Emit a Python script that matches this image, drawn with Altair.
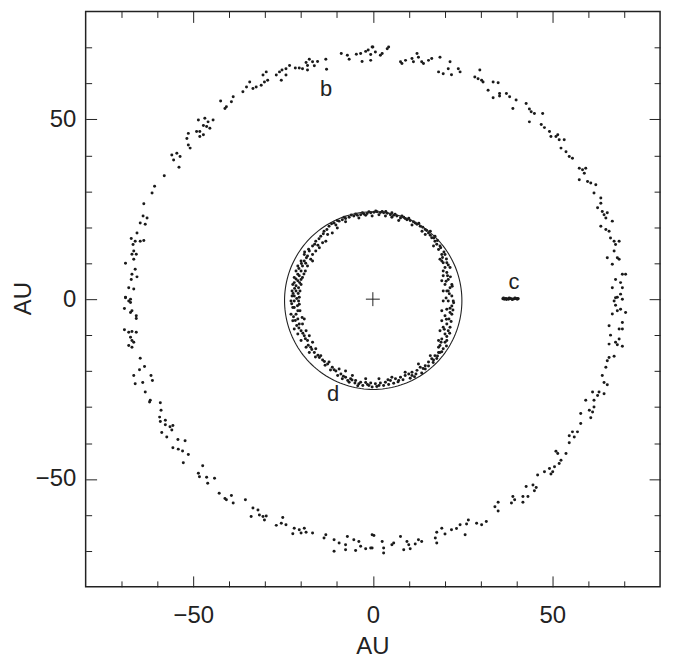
import altair as alt
import pandas as pd
import numpy as np

# ---------------- data (AU) ----------------
# outer ring (planet b region), points read quadrant by quadrant
OUTER_PTS = [
    # upper-left quadrant
    (-8.8, 68.3), (-7.1, 67.8), (-6.6, 66.7), (-4.6, 68.1), (-3.4, 68.3), (-3.0, 66.1), (-2.0, 68.9),
    (-1.3, 69.3), (0.0, 70.1), (-0.6, 68.0), (-17.7, 66.7), (-18.6, 65.8), (-18.2, 65.0), (-16.8, 66.0),
    (-15.4, 66.1), (-13.1, 66.7), (-18.2, 63.7), (-19.6, 64.1), (-16.3, 64.9), (-12.9, 63.9), (-20.5, 64.3),
    (-21.6, 64.3), (-23.2, 65.0), (-24.2, 64.1), (-25.3, 63.7), (-26.0, 63.2), (-26.9, 62.3), (-25.5, 60.9),
    (-24.2, 62.3), (-29.7, 63.2), (-30.6, 62.3), (-29.3, 60.9), (-30.2, 60.4), (-31.1, 59.5), (-32.5, 59.0),
    (-33.4, 58.6), (-34.3, 60.4), (-35.2, 59.0), (-36.2, 57.7), (-38.9, 56.3), (-39.4, 54.9), (-40.8, 53.5),
    (-41.2, 53.0), (-42.4, 55.1), (-44.5, 49.8), (-45.9, 49.3), (-46.8, 50.3), (-45.4, 47.5), (-46.3, 48.0),
    (-48.2, 46.6), (-49.1, 46.6), (-48.6, 49.8), (-47.2, 48.3), (-48.2, 45.2), (-47.2, 45.7), (-51.4, 46.1),
    (-51.8, 44.7), (-51.4, 42.9), (-50.9, 42.0), (-56.0, 40.1), (-55.5, 38.7), (-54.6, 40.6), (-53.7, 39.7),
    (-54.0, 36.7), (-58.1, 34.3), (-60.8, 31.4), (-61.5, 29.5), (-63.8, 26.5), (-64.0, 23.1), (-62.9, 22.6),
    (-64.8, 21.2), (-63.4, 20.8), (-65.7, 18.4), (-66.2, 16.1), (-67.3, 16.9), (-64.8, 16.1), (-63.8, 16.3),
    (-66.8, 15.2), (-66.6, 13.4), (-67.1, 12.5), (-65.9, 12.5), (-68.9, 10.0), (-66.6, 11.1), (-66.2, 8.3),
    (-67.1, 6.9), (-67.3, 5.5), (-65.7, 6.2), (-68.0, 3.2), (-66.6, 2.8), (-68.9, 0.4), (-67.5, 0.0),
    # upper-right quadrant
    (-0.2, 70.1), (-0.6, 66.4), (0.7, 68.7), (2.1, 67.8), (2.6, 68.3), (4.0, 69.6), (4.4, 70.1),
    (8.1, 65.5), (7.7, 66.0), (9.1, 66.4), (10.9, 66.9), (11.3, 66.0), (12.3, 68.3), (12.7, 67.3),
    (13.6, 66.0), (14.1, 65.5), (15.5, 66.4), (16.4, 66.9), (18.7, 67.3), (18.3, 63.2), (19.6, 62.7),
    (21.0, 64.1), (21.5, 66.0), (21.9, 62.4), (23.8, 64.1), (24.3, 63.2), (28.4, 61.8), (29.3, 61.3),
    (29.8, 63.7), (30.3, 60.9), (30.7, 60.4), (32.1, 58.1), (33.5, 60.4), (34.9, 60.2), (33.5, 56.0),
    (35.3, 57.2), (35.3, 56.5), (37.2, 57.2), (38.1, 56.3), (39.0, 53.0), (39.9, 55.4), (42.7, 54.4),
    (43.6, 52.9), (44.1, 52.1), (43.6, 49.3), (45.0, 51.6), (47.3, 51.6), (46.9, 48.6), (47.8, 47.7),
    (49.2, 46.6), (49.6, 45.2), (51.0, 45.2), (51.5, 45.7), (51.9, 44.3), (52.4, 42.0), (53.3, 44.3),
    (53.8, 41.0), (54.7, 39.7), (55.6, 39.2), (57.5, 36.4), (58.4, 36.0), (58.9, 35.0), (59.3, 36.4),
    (57.5, 33.2), (59.8, 32.7), (60.7, 32.3), (62.1, 31.8), (61.6, 29.5), (63.5, 28.1), (63.5, 26.7),
    (62.6, 25.4), (63.9, 24.4), (64.4, 23.5), (65.3, 24.0), (64.9, 22.6), (66.7, 21.7), (63.5, 20.3),
    (64.9, 19.4), (65.8, 18.9), (66.2, 17.0), (67.2, 16.1), (67.6, 15.2), (68.6, 16.1), (67.2, 13.4),
    (68.1, 11.5), (68.6, 11.1), (66.7, 9.7), (65.3, 11.5), (69.5, 6.9), (70.4, 6.9), (67.6, 5.5),
    (69.0, 4.6), (66.7, 3.2), (69.5, 3.2), (67.6, 0.4), (69.0, 1.4),
    # lower-left quadrant
    (-68.9, 0.5), (-68.0, -0.5), (-67.5, -0.9), (-69.2, -2.6), (-67.1, -3.2), (-67.5, -3.7), (-65.9, -4.6),
    (-65.9, -5.4), (-69.2, -8.5), (-68.0, -9.2), (-67.1, -9.0), (-65.9, -9.2), (-67.5, -10.6), (-67.1, -11.5),
    (-68.0, -12.9), (-67.1, -13.4), (-66.6, -12.0), (-64.8, -16.4), (-65.0, -19.6), (-63.6, -18.7),
    (-66.6, -21.2), (-66.2, -23.5), (-64.1, -23.2), (-61.8, -21.2), (-61.4, -22.6), (-63.4, -25.8),
    (-62.0, -28.1), (-62.2, -28.6), (-59.2, -28.8), (-59.0, -30.9), (-59.4, -32.8), (-59.2, -34.0),
    (-57.8, -33.7), (-57.8, -34.9), (-56.5, -35.5), (-56.0, -36.4), (-58.8, -37.1), (-57.4, -38.3),
    (-55.7, -35.1), (-54.3, -39.0), (-52.3, -39.4), (-55.7, -41.3), (-54.2, -41.7), (-53.0, -42.2),
    (-51.4, -43.2), (-52.8, -45.5), (-47.4, -46.3), (-48.6, -48.4), (-48.3, -49.4), (-46.3, -49.5),
    (-44.1, -49.8), (-46.0, -51.2), (-42.8, -54.0), (-41.2, -55.4), (-40.8, -55.8), (-39.4, -54.6),
    (-38.9, -56.7), (-35.5, -55.8), (-33.4, -58.1), (-32.0, -58.6), (-31.6, -60.0), (-30.6, -60.4),
    (-29.7, -60.3), (-33.9, -60.4), (-30.2, -61.4), (-25.1, -60.7), (-25.5, -62.3), (-26.9, -62.9),
    (-24.2, -62.7), (-21.9, -63.7), (-22.3, -65.2), (-20.5, -64.1), (-19.1, -63.7), (-20.0, -65.0),
    (-18.6, -64.8), (-16.8, -65.0), (-13.1, -65.5), (-13.6, -66.4), (-10.8, -66.9), (-9.4, -67.8),
    (-7.6, -68.3), (-7.1, -66.0), (-5.3, -66.9), (-3.9, -67.4), (-3.4, -68.7), (-2.0, -69.4),
    (-0.2, -69.2), (0.3, -65.7), (-10.8, -70.1), (-7.6, -69.7), (-4.8, -69.9),
    # lower-right quadrant
    (67.2, -0.5), (68.1, 0.5), (69.5, 0.0), (67.6, -1.7), (66.7, -4.1), (68.1, -3.2), (69.0, -2.8),
    (70.4, -3.7), (69.5, -6.5), (65.8, -7.4), (68.6, -8.3), (69.5, -8.3), (66.2, -10.0), (65.8, -12.5),
    (67.6, -12.0), (68.6, -11.1), (68.1, -12.7), (69.5, -13.1), (65.8, -16.2), (67.2, -15.9), (65.3, -17.1),
    (64.9, -18.9), (63.9, -21.2), (64.4, -23.2), (65.3, -23.8), (61.2, -25.8), (63.0, -25.8), (62.6, -26.8),
    (64.4, -26.3), (61.6, -28.1), (59.3, -28.1), (60.3, -30.9), (61.6, -30.0), (61.2, -31.4), (60.7, -33.0),
    (57.9, -31.8), (57.9, -34.6), (57.0, -36.9), (55.6, -36.9), (54.7, -38.0), (56.1, -38.3), (54.7, -39.9),
    (51.0, -42.3), (51.5, -42.9), (53.8, -42.9), (52.4, -44.8), (51.9, -45.7), (50.6, -46.6), (49.2, -47.1),
    (47.8, -48.0), (49.6, -48.6), (50.1, -48.0), (45.9, -48.9), (42.7, -52.1), (44.6, -51.7), (45.5, -52.4),
    (45.0, -53.3), (41.8, -54.9), (43.2, -54.9), (39.0, -54.9), (39.5, -55.8), (38.6, -56.7), (41.8, -56.5),
    (34.9, -56.5), (34.0, -57.7), (34.9, -58.9), (31.6, -61.8), (30.3, -62.7), (28.9, -62.3), (26.6, -61.4),
    (26.1, -62.5), (25.7, -65.5), (24.3, -62.7), (23.3, -63.8), (21.9, -64.1), (20.1, -65.3), (19.2, -63.7),
    (17.8, -64.8), (17.4, -66.4), (17.8, -67.8), (13.6, -67.4), (12.7, -66.9), (11.8, -68.1), (10.0, -68.3),
    (9.5, -67.4), (10.4, -69.4), (7.7, -66.0), (8.6, -69.7), (5.8, -67.8), (5.3, -68.3), (3.0, -69.2),
    (2.6, -67.4), (3.0, -70.6), (-0.2, -65.5), (-0.6, -69.2),
]

# inner ring (planet d region)
INNER_PTS = [
    (-12.2, 20.3), (-10.8, 21.2), (-9.4, 21.7), (-8.5, 22.1), (-7.6, 22.4), (-6.6, 22.8), (-5.3, 23.1),
    (-4.3, 23.3), (-3.4, 23.5), (-2.5, 23.7), (-1.6, 23.8), (-0.6, 24.0), (0.3, 24.2), (1.2, 24.3),
    (2.1, 24.1), (3.0, 24.0), (4.0, 23.9), (4.9, 23.5), (5.8, 23.3), (6.7, 23.1), (7.7, 22.6), (8.6, 22.8),
    (9.5, 22.1), (10.4, 21.9), (11.3, 21.5), (12.3, 20.8), (13.2, 20.3), (13.7, 18.9), (14.6, 19.4),
    (15.5, 18.4), (16.4, 17.1), (17.3, 16.1), (16.9, 14.8), (18.3, 13.8), (19.2, 12.4), (18.7, 11.1),
    (19.6, 10.1), (20.1, 8.8), (20.6, 7.4), (19.6, 6.5), (21.0, 5.5), (20.1, 4.1), (21.5, 3.2), (20.6, 2.3),
    (22.0, 0.9), (21.0, -0.5), (22.0, -1.9), (20.6, -2.8), (21.5, -3.7), (20.1, -4.6), (21.2, -5.5),
    (20.6, -6.9), (19.6, -7.8), (21.0, -8.8), (20.1, -9.7), (19.2, -11.1), (20.1, -12.0), (18.7, -12.9),
    (19.6, -13.8), (18.3, -14.8), (17.3, -15.7), (16.4, -16.6), (15.5, -17.5), (14.6, -18.5), (13.2, -18.9),
    (12.3, -19.8), (10.9, -20.3), (10.0, -20.8), (9.0, -21.2), (7.7, -21.7), (6.3, -22.1), (4.9, -22.6),
    (3.5, -23.1), (2.1, -23.3), (0.7, -23.5), (-0.6, -23.3), (-2.0, -23.2), (-3.4, -23.1), (-4.8, -22.6),
    (-6.2, -22.1), (-7.6, -21.7), (-8.9, -20.8), (-10.3, -20.0), (-11.3, -18.9), (-12.6, -18.0),
    (-14.0, -16.9), (-14.9, -16.2), (-16.3, -14.8), (-17.3, -13.4), (-18.2, -11.5), (-19.1, -10.2),
    (-20.0, -8.8), (-20.5, -6.9), (-20.9, -5.5), (-21.4, -4.2), (-21.9, -2.3), (-21.9, -0.5), (-21.9, 0.9),
    (-21.4, 2.3), (-21.4, 3.7), (-20.9, 5.1), (-20.5, 6.5), (-20.0, 7.8), (-19.6, 9.2), (-19.1, 10.6),
    (-18.2, 12.0), (-17.7, 13.4), (-16.8, 14.8), (-15.9, 16.1), (-14.5, 17.5), (-13.6, 18.9),
    # second rows of the band
    (-7.6, 21.5), (-3.9, 22.6), (-0.2, 23.1), (3.5, 23.1), (7.2, 21.9), (10.9, 20.6), (14.6, 18.0),
    (-10.3, 20.6), (-2.0, 23.3), (1.7, 23.5), (5.3, 22.8),
    (-19.6, -6.9), (-19.7, -5.1), (-20.3, -3.2), (-20.5, -1.4), (-20.5, 0.5), (-20.3, 2.3), (-20.0, 4.1),
    (-19.6, 6.0), (-18.8, 7.8), (-18.2, 9.2), (-17.3, 11.1), (-16.8, 12.4), (-19.1, -5.5), (-20.9, -3.2),
    (-20.7, -0.5), (-20.7, 3.2), (-20.0, 5.5), (-18.6, -8.8), (-17.7, -10.2), (-16.8, -12.0), (-15.9, -13.8),
    (-14.5, -15.7),
    (-22.8, -4.2), (-22.8, -0.5), (-22.5, 2.3), (-22.3, 4.1), (-21.9, 6.0), (-21.4, 7.8), (-20.9, 9.2),
    (-22.3, -6.0), (-21.9, -8.3), (-20.9, -9.7), (-22.3, -2.3), (-22.5, 0.9), (-20.0, 10.6), (-19.1, 12.4),
    (-20.0, -11.5), (-18.6, -13.4), (-17.7, -14.8),
    (1.7, -22.1), (-2.0, -22.1), (-5.7, -21.2), (5.3, -21.7), (9.0, -20.3), (12.7, -18.0), (16.0, -15.7),
    (18.3, -13.4), (-9.4, -19.4), (-12.2, -17.5), (-7.6, -20.0),
    (1.7, -24.0), (4.4, -23.7), (-1.1, -24.0), (-3.9, -23.5), (7.2, -22.6), (10.9, -21.2), (14.6, -19.4),
    (16.9, -16.9), (18.7, -14.8), (-6.6, -23.1), (-8.5, -22.1),
    (19.2, 10.6), (19.6, 7.8), (19.2, 5.1), (19.6, 2.3), (19.6, -0.5), (19.2, -3.2), (19.2, -6.0),
    (18.7, -8.8), (18.3, -11.5),
    (21.5, 8.8), (22.0, 4.1), (22.4, -0.5), (22.0, -4.2), (21.5, -7.8), (20.6, -11.5), (20.6, 10.1),
    (21.0, 2.3), (20.1, 12.4), (18.7, 14.8), (17.3, 17.5), (16.0, 18.9),
    (-14.9, 14.3), (-13.1, 16.1), (-11.3, 18.4), (-15.9, 13.4), (-14.0, 15.7), (-16.8, 10.6), (-9.9, 19.8),
    (-12.6, 18.0),
    # third pass through the dense parts of the band
    (-11.5, 21.0), (-9.9, 21.9), (-8.0, 22.8), (-6.0, 23.4), (-4.8, 23.7), (-2.9, 24.0), (-1.1, 24.3),
    (0.8, 24.5), (2.6, 24.4), (3.6, 24.4), (5.3, 24.0), (6.2, 23.6), (8.1, 23.1), (9.0, 22.4), (10.0, 22.5),
    (11.8, 21.2), (12.8, 21.1), (13.9, 20.0), (15.0, 19.1), (16.0, 17.8), (17.0, 17.0), (17.8, 15.3),
    (18.0, 16.3), (18.9, 14.3), (19.8, 13.1), (19.4, 11.6), (20.5, 11.2), (21.0, 9.5), (20.8, 6.5),
    (21.6, 6.2), (20.4, 5.0), (22.1, 3.6), (21.3, 1.5), (20.4, 0.3), (22.5, -1.0), (21.5, -2.5), (22.3, -3.0),
    (20.5, -5.6), (21.8, -6.2), (19.9, -8.4), (21.4, -9.5), (20.6, -10.4), (19.0, -12.0), (20.5, -13.0),
    (19.2, -14.6), (18.0, -15.8), (17.8, -16.5), (16.8, -17.6), (15.5, -18.6), (14.0, -19.3), (13.6, -20.5),
    (12.0, -20.8), (11.6, -21.6), (10.4, -22.0), (8.4, -22.4), (7.0, -23.0), (5.8, -23.4), (4.2, -22.4),
    (3.0, -24.0), (1.1, -24.3), (-0.2, -24.4), (-1.5, -23.7), (-2.8, -24.0), (-4.2, -24.1), (-5.0, -23.3),
    (-5.8, -22.5), (-7.0, -22.6), (-8.2, -21.4), (-9.8, -21.2), (-10.8, -19.6), (-11.8, -19.7),
    (-13.3, -18.4), (-13.5, -17.3), (-15.3, -15.6), (-16.0, -16.1), (-17.0, -14.0), (-18.0, -12.8),
    (-18.8, -11.0), (-19.5, -9.5), (-20.6, -8.0), (-21.2, -7.3), (-21.6, -5.9), (-22.1, -4.9), (-21.0, -1.8),
    (-22.6, -1.3), (-21.2, 0.2), (-22.2, 1.6), (-20.8, 1.6), (-21.8, 3.0), (-21.9, 4.6), (-20.4, 4.6),
    (-21.4, 5.6), (-20.9, 6.9), (-19.2, 7.0), (-20.6, 8.5), (-19.9, 9.9), (-18.7, 10.0), (-18.5, 11.5),
    (-19.0, 13.1), (-17.9, 13.9), (-16.2, 15.3), (-15.3, 15.0), (-15.0, 16.8), (-13.8, 18.2), (-12.8, 19.4),
]

# compact cluster (planet c)
C_PTS = [
    (36.2, 0.1), (36.6, 0.0), (37.0, 0.2), (37.4, 0.1), (37.8, 0.0), (38.2, 0.2), (38.6, 0.1), (39.0, 0.0),
    (39.4, 0.1), (39.8, 0.2), (40.2, 0.0), (40.5, 0.1), (36.4, 0.3), (37.2, -0.1), (38.0, 0.3), (38.8, -0.1),
    (39.6, 0.3), (40.3, 0.2),
]

LABELS = ["b", "c", "d"]
LABEL_X = [-13.0, 39.3, -11.1]
LABEL_Y = [56.5, 2.9, -28.4]

STAR_X = [0.0]
STAR_Y = [0.0]

# reference circle drawn around the inner ring
CIRCLE_CX, CIRCLE_CY, CIRCLE_R = 0.1, -0.4, 24.7

MAJOR_TICKS = [-50, 0, 50]
MINOR_TICKS = [-70, -60, -40, -30, -20, -10, 10, 20, 30, 40, 60, 70]
DOMAIN = [-80, 80]

# ---------------- build ----------------
outer_df = pd.DataFrame(OUTER_PTS, columns=["x", "y"])
inner_df = pd.DataFrame(INNER_PTS, columns=["x", "y"])
c_df = pd.DataFrame(C_PTS, columns=["x", "y"])
lab_df = pd.DataFrame({"x": LABEL_X, "y": LABEL_Y, "t": LABELS})
star_df = pd.DataFrame({"x": STAR_X, "y": STAR_Y})
ang = np.deg2rad(np.arange(0, 361, 2))
circ_df = pd.DataFrame({
    "i": np.arange(len(ang)),
    "x": CIRCLE_CX + CIRCLE_R * np.cos(ang),
    "y": CIRCLE_CY + CIRCLE_R * np.sin(ang),
})

W, H = 577, 578
FONT = "Liberation Sans"
INK = "#222222"
sc = alt.Scale(domain=DOMAIN, nice=False, zero=False)


def tick_axis(orient, offset, values, size):
    return alt.Axis(orient=orient, offset=offset, values=values, tickSize=size, labels=False,
                    domain=False, grid=False, title=None, tickColor=INK, tickWidth=1)


dot_color = "#1a1a1a"
DOT = 9

outer = alt.Chart(outer_df).mark_circle(size=DOT, color=dot_color, opacity=1).encode(
    x=alt.X("x:Q", scale=sc, axis=alt.Axis(
        orient="bottom", values=MAJOR_TICKS, ticks=False, domain=False, grid=False,
        labelFontSize=24, labelPadding=17, labelColor=INK, labelFont=FONT,
        title="AU", titleFontSize=24, titleFont=FONT, titleFontWeight="normal", titleColor=INK,
        titleX=288, titleY=67, titleBaseline="alphabetic", titleAlign="center")),
    y=alt.Y("y:Q", scale=sc, axis=alt.Axis(
        orient="left", values=MAJOR_TICKS, ticks=False, domain=False, grid=False,
        labelFontSize=24, labelPadding=10, labelColor=INK, labelFont=FONT,
        title="AU", titleFontSize=24, titleFont=FONT, titleFontWeight="normal", titleColor=INK,
        titleX=-55, titleY=288, titleBaseline="alphabetic", titleAlign="center", titleAngle=270)),
)

inner = alt.Chart(inner_df).mark_circle(size=DOT, color=dot_color, opacity=1).encode(
    x=alt.X("x:Q", scale=sc, axis=tick_axis("top", -H, MAJOR_TICKS, 11)),
    y=alt.Y("y:Q", scale=sc, axis=tick_axis("right", -W, MAJOR_TICKS, 11)),
)

cpl = alt.Chart(c_df).mark_circle(size=DOT, color=dot_color, opacity=1).encode(
    x=alt.X("x:Q", scale=sc, axis=tick_axis("top", -H, MINOR_TICKS, 6)),
    y=alt.Y("y:Q", scale=sc, axis=tick_axis("right", -W, MINOR_TICKS, 6)),
)

circle = alt.Chart(circ_df).mark_line(color=INK, strokeWidth=1.1).encode(
    x=alt.X("x:Q", scale=sc, axis=tick_axis("bottom", -H, MAJOR_TICKS, 11)),
    y=alt.Y("y:Q", scale=sc, axis=tick_axis("left", -W, MAJOR_TICKS, 11)),
    order="i:Q",
)

star = alt.Chart(star_df).mark_point(shape="M-1,0L1,0M0,-1L0,1", size=196, filled=False,
                                     color=INK, strokeWidth=1, opacity=1).encode(
    x=alt.X("x:Q", scale=sc, axis=tick_axis("bottom", -H, MINOR_TICKS, 6)),
    y=alt.Y("y:Q", scale=sc, axis=tick_axis("left", -W, MINOR_TICKS, 6)),
)

labels = alt.Chart(lab_df).mark_text(fontSize=22, font=FONT, color=INK, baseline="alphabetic",
                                     align="center").encode(
    x=alt.X("x:Q", scale=sc, axis=None),
    y=alt.Y("y:Q", scale=sc, axis=None),
    text="t:N",
)

chart = alt.layer(outer, inner, cpl, circle, star, labels).resolve_axis(
    x="independent", y="independent"
).properties(
    width=W, height=H,
    autosize=alt.AutoSizeParams(type="none"),
    padding={"left": 78, "top": 2, "right": 14, "bottom": 76},
).configure_view(stroke=INK, strokeWidth=1.5)

chart.save("out.html", embed_options={"renderer": "svg", "actions": False})
